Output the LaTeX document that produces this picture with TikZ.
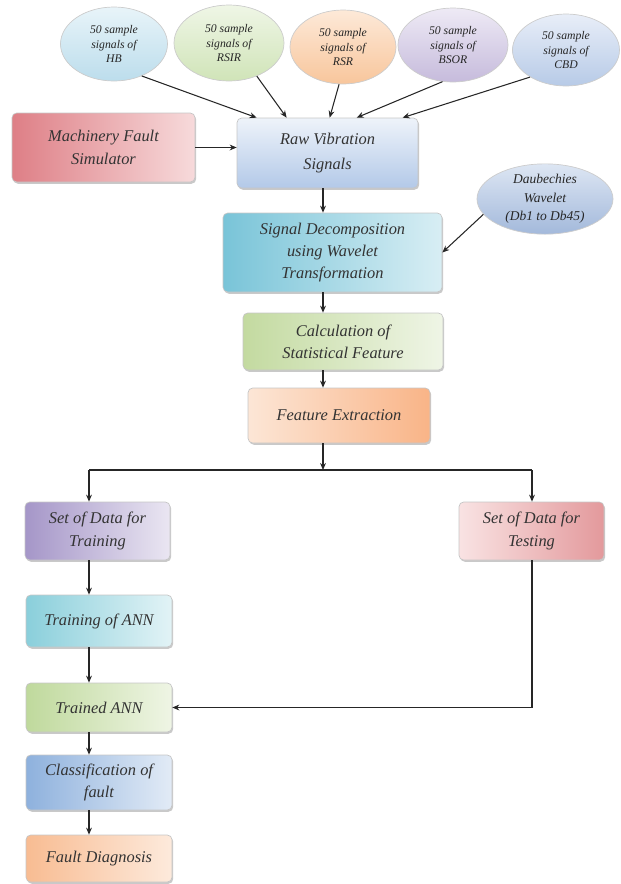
\documentclass[tikz,border=0pt]{standalone}
\usepackage{fontspec}
\setmainfont{Liberation Serif}
\usetikzlibrary{shapes.geometric,arrows.meta,shadows,calc}
\definecolor{mfsA}{HTML}{DE7F86}\definecolor{mfsB}{HTML}{F7DADB}
\definecolor{rawA}{HTML}{EEF3FA}\definecolor{rawB}{HTML}{B3C9E8}
\definecolor{sdA}{HTML}{79C4D8}\definecolor{sdB}{HTML}{D8EEF4}
\definecolor{calA}{HTML}{C3DAA0}\definecolor{calB}{HTML}{EFF5E6}
\definecolor{feA}{HTML}{F9B487}\definecolor{feB}{HTML}{FCE6D6}
\definecolor{trA}{HTML}{A596C8}\definecolor{trB}{HTML}{EAE6F2}
\definecolor{teA}{HTML}{E3999C}\definecolor{teB}{HTML}{F9E3E3}
\definecolor{taA}{HTML}{8ACFDB}\definecolor{taB}{HTML}{E2F3F6}
\definecolor{tdA}{HTML}{BFD99C}\definecolor{tdB}{HTML}{EFF5E5}
\definecolor{clA}{HTML}{8EB1DD}\definecolor{clB}{HTML}{E2EBF6}
\definecolor{fdA}{HTML}{F8BC92}\definecolor{fdB}{HTML}{FDEADC}
\definecolor{hbA}{HTML}{BCDDEC}\definecolor{hbB}{HTML}{E8F4F9}
\definecolor{rsA}{HTML}{D0E4B8}\definecolor{rsB}{HTML}{EFF6E6}
\definecolor{orA}{HTML}{F8C69C}\definecolor{orB}{HTML}{FDE9D8}
\definecolor{puA}{HTML}{C6BBDC}\definecolor{puB}{HTML}{EEEAF5}
\definecolor{blA}{HTML}{B7CAE7}\definecolor{blB}{HTML}{E8EEF8}
\definecolor{daA}{HTML}{A3B9DB}\definecolor{daB}{HTML}{DDE6F3}
\tikzset{
  sz/.style 2 args={minimum width=#1*0.03cm, minimum height=#2*0.03cm},
  box/.style={rectangle, rounded corners=4pt, draw=gray!45, line width=0.6pt,
    align=center, text=black!80, inner sep=1pt,
    font=\fontsize{14}{19}\selectfont\itshape,
    drop shadow={shadow xshift=1pt, shadow yshift=-1.5pt, opacity=0.3, fill=black!70}},
  ell/.style={ellipse, draw=gray!40, line width=0.6pt, align=center, text=black!85,
    inner sep=0pt, font=\fontsize{10}{12}\selectfont\itshape},
  arr/.style={-{Stealth[length=6pt,width=5pt]}, line width=0.9pt, draw=black!85},
  ln/.style={line width=0.9pt, draw=black!85}
}
\begin{document}
\begin{tikzpicture}[x=0.03cm,y=-0.03cm]
\useasboundingbox (0,0) rectangle (621,884);
% top ellipses
\node[ell, sz={107}{74}, top color=hbB, bottom color=hbA] (hb) at (114,44) {50 sample\\signals of\\HB};
\node[ell, sz={110}{76}, top color=rsB, bottom color=rsA] (rsir) at (229,43) {50 sample\\signals of\\RSIR};
\node[ell, sz={106}{74}, top color=orB, bottom color=orA] (rsr) at (343,47) {50 sample\\signals of\\RSR};
\node[ell, sz={110}{74}, top color=puB, bottom color=puA] (bsor) at (453,45) {50 sample\\signals of\\BSOR};
\node[ell, sz={107}{72}, top color=blB, bottom color=blA] (cbd) at (566,50) {50 sample\\signals of\\CBD};
% boxes
\node[box, sz={183}{69}, left color=mfsA, right color=mfsB] (mfs) at (103.5,147.5) {Machinery Fault\\Simulator};
\node[box, sz={181}{70}, top color=rawA, bottom color=rawB, font=\fontsize{14}{22}\selectfont\itshape] (raw) at (327.5,153) {Raw Vibration\\Signals};
\node[ell, sz={136}{70}, top color=daB, bottom color=daA, font=\fontsize{11.5}{16}\selectfont\itshape] (dau) at (545,199) {Daubechies\\Wavelet\\(Db1 to Db45)};
\node[box, sz={219}{79}, left color=sdA, right color=sdB] (sd) at (332.5,252.5) {Signal Decomposition\\using Wavelet\\Transformation};
\node[box, sz={200}{57}, left color=calA, right color=calB] (calc) at (343,341.5) {Calculation of\\Statistical Feature};
\node[box, sz={182}{55}, left color=feB, right color=feA] (feat) at (339,415.5) {Feature Extraction};
\node[box, sz={145}{58}, left color=trA, right color=trB] (train) at (97.5,531) {Set of Data for\\Training};
\node[box, sz={145}{58}, right color=teA, left color=teB] (test) at (531.5,531) {Set of Data for\\Testing};
\node[box, sz={146}{52}, left color=taA, right color=taB] (tann) at (99,621) {Training of ANN};
\node[box, sz={146}{49}, left color=tdA, right color=tdB] (trained) at (99,707.5) {Trained ANN};
\node[box, sz={146}{55}, left color=clA, right color=clB] (cls) at (99,782.5) {Classification of\\fault};
\node[box, sz={146}{47}, left color=fdA, right color=fdB] (fd) at (99,858.5) {Fault Diagnosis};
% helper coordinates
\coordinate (sp) at (323,0);
\coordinate (lc) at (89,0);
\coordinate (rc) at (532,0);
\coordinate (jn) at (323,470);
% connectors
\draw[arr] (hb.-49) -- ($(raw.north west)+(20,0)$);
\draw[arr] (rsir.-50) -- ($(raw.north west)+(50,0)$);
\draw[arr] (rsr.-96) -- ($(raw.north west)+(93,0)$);
\draw[arr] (bsor.-106) -- ($(raw.north west)+(120,0)$);
\draw[arr] (cbd.-143) -- ($(raw.north west)+(166,0)$);
\draw[arr] (mfs.east) -- (mfs.east -| raw.west);
\draw[arr] (raw.south -| sp) -- (sd.north -| sp);
\draw[arr] (dau.-166) -- (sd.east);
\draw[arr] (sd.south -| sp) -- (calc.north -| sp);
\draw[arr] (calc.south -| sp) -- (feat.north -| sp);
\draw[arr] (feat.south -| sp) -- (jn);
\draw[ln] (jn -| lc) -- (jn -| rc);
\draw[arr] (jn -| lc) -- (train.north -| lc);
\draw[arr] (jn -| rc) -- (test.north -| rc);
\draw[arr] (train.south -| lc) -- (tann.north -| lc);
\draw[arr] (tann.south -| lc) -- (trained.north -| lc);
\draw[arr] (trained.south -| lc) -- (cls.north -| lc);
\draw[arr] (cls.south -| lc) -- (fd.north -| lc);
\draw[arr] (test.south -| rc) |- (trained.east);
\end{tikzpicture}
\end{document}
